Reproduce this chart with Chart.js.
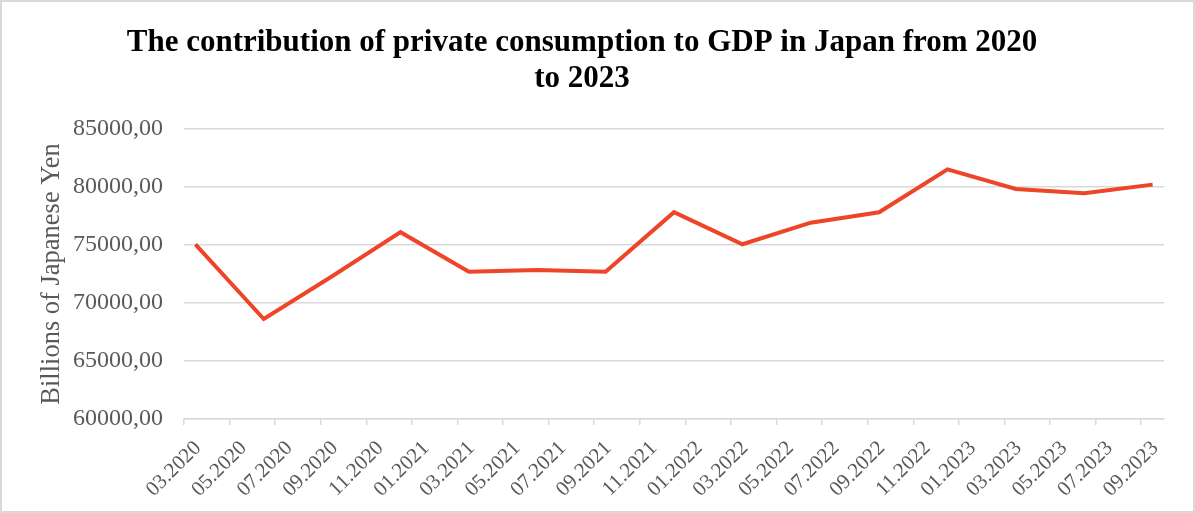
<!DOCTYPE html>
<html>
<head>
<meta charset="utf-8">
<script src="https://cdn.jsdelivr.net/npm/chart.js@4.4.1/dist/chart.umd.min.js"></script>
<style>
    body { margin: 0; background: #fff; }
    #wrap { position: relative; width: 1195px; height: 513px; }
    #grafico { position: absolute; left: 0; top: 0; }
    #moldura { position: absolute; left: 0; top: 0; width: 1195px; height: 513px; box-sizing: border-box; border: 2px solid #d9d9d9; pointer-events: none; }
</style>
</head>
<body>
<div id="wrap">
    <canvas id="grafico" width="1195" height="513"></canvas>
    <div id="moldura"></div>
</div>
<script>
const trimestres = ['03.2020', '06.2020', '09.2020', '12.2020', '03.2021', '06.2021', '09.2021', '12.2021',
    '03.2022', '06.2022', '09.2022', '12.2022', '03.2023', '06.2023', '09.2023'];
const consumo = [75050, 68620, 72300, 76100, 72700, 72840, 72700, 77820,
    75060, 76920, 77820, 81520, 79830, 79460, 80200];
const rotulosX = ['03.2020', '05.2020', '07.2020', '09.2020', '11.2020', '01.2021', '03.2021', '05.2021',
    '07.2021', '09.2021', '11.2021', '01.2022', '03.2022', '05.2022', '07.2022', '09.2022',
    '11.2022', '01.2023', '03.2023', '05.2023', '07.2023', '09.2023'];
const ticksY = [60000, 65000, 70000, 75000, 80000, 85000];

// mes 0 = 03.2020, cada ponto fica no meio do seu mes
function mesIndice(rotulo) {
    const [m, a] = rotulo.split('.').map(Number);
    return (a - 2020) * 12 + (m - 3);
}

const pontos = trimestres.map((t, i) => ({ x: mesIndice(t) + 0.5, y: consumo[i] }));
const cinza = '#d9d9d9';
const texto = '#595959';

const ctx = document.getElementById('grafico');

new Chart(ctx, {
    type: 'line',
    data: {
        datasets: [{
            data: pontos,
            borderColor: '#ee4528',
            borderWidth: 4,
            pointRadius: 0,
            tension: 0,
            fill: false
        }]
    },
    options: {
        responsive: false,
        animation: false,
        layout: { padding: { left: 0, right: 31, top: 0, bottom: 0 } },
        plugins: {
            legend: { display: false },
            tooltip: { enabled: false },
            title: {
                display: true,
                text: ['The contribution of private consumption to GDP in Japan from 2020', 'to 2023'],
                color: '#000',
                font: { family: 'Liberation Serif', size: 31, weight: 'bold', lineHeight: 1.16 },
                padding: { top: 25, bottom: 32 }
            }
        },
        scales: {
            x: {
                type: 'linear',
                min: 0,
                max: 43,
                afterBuildTicks: (eixo) => {
                    eixo.ticks = rotulosX.map((r, i) => ({ value: i * 2 }));
                },
                afterFit: (eixo) => { eixo.height = 94; },
                grid: {
                    drawOnChartArea: false,
                    drawTicks: true,
                    tickLength: 6,
                    color: cinza,
                    lineWidth: 1.5
                },
                border: { color: cinza, width: 1.5 },
                ticks: {
                    autoSkip: false,
                    minRotation: 45,
                    maxRotation: 45,
                    labelOffset: 14,
                    padding: 11,
                    color: texto,
                    font: { family: 'Liberation Serif', size: 21 },
                    callback: (v) => rotulosX[Math.round(v / 2)]
                }
            },
            y: {
                min: 60000,
                max: 85000,
                afterBuildTicks: (eixo) => {
                    eixo.ticks = ticksY.map(v => ({ value: v }));
                },
                afterFit: (eixo) => { eixo.width = 184; },
                grid: { color: cinza, lineWidth: 1.5, drawTicks: false },
                border: { display: false },
                ticks: {
                    padding: 21,
                    color: texto,
                    font: { family: 'Liberation Serif', size: 24 },
                    callback: (v) => v.toFixed(2).replace('.', ',')
                },
                title: {
                    display: true,
                    text: 'Billions of Japanese Yen',
                    color: texto,
                    font: { family: 'Liberation Serif', size: 26.5 },
                    padding: { top: 36, bottom: 0 }
                }
            }
        }
    }
});
</script>
</body>
</html>
